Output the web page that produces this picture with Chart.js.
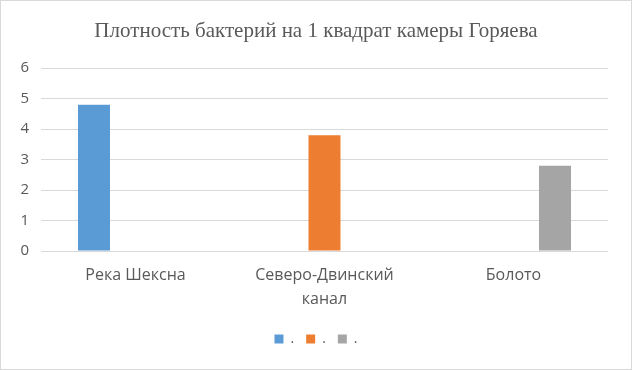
<!DOCTYPE html>
<html><head><meta charset="utf-8">
<script src="https://cdn.jsdelivr.net/npm/chart.js@4/dist/chart.umd.min.js"></script>
<style>html,body{margin:0;padding:0;background:#fff}#wrap{width:632px;height:370px}</style>
</head><body><div id="wrap"><canvas id="c" width="632" height="370"></canvas></div>
<script>
const title = "Плотность бактерий на 1 квадрат камеры Горяева";
const categories = [["Река Шексна"], ["Северо-Двинский", "канал"], ["Болото"]];
const seriesNames = [".", ".", "."];
const series1 = [4.8, null, null];
const series2 = [null, 3.8, null];
const series3 = [null, null, 2.8];
const colors = ["#5B9BD5", "#ED7D31", "#A5A5A5"];
const yMin = 0, yMax = 6, yStep = 1;

const border = {
  id: 'border',
  afterDraw(chart) {
    const ctx = chart.ctx;
    ctx.save();
    ctx.strokeStyle = '#d9d9d9';
    ctx.lineWidth = 1;
    ctx.strokeRect(0.5, 0.5, chart.width - 1, chart.height - 1);
    ctx.restore();
  }
};

new Chart(document.getElementById('c'), {
  type: 'bar',
  data: {
    labels: categories,
    datasets: [series1, series2, series3].map((d, i) => ({
      label: seriesNames[i],
      data: d,
      backgroundColor: colors[i],
      categoryPercentage: 0.659,
      barPercentage: 0.771
    }))
  },
  options: {
    responsive: false,
    animation: false,
    layout: { padding: { left: 0, right: 0, top: 0, bottom: 14 } },
    plugins: {
      title: {
        display: true, text: title, color: '#595959',
        font: { family: 'Liberation Serif', size: 21, weight: 'normal' },
        padding: { top: 19, bottom: 24 }
      },
      legend: {
        position: 'bottom',
        labels: {
          boxWidth: 9, boxHeight: 9, color: '#595959',
          font: { family: 'Open Sans', size: 14 },
          padding: 12
        }
      },
      tooltip: { enabled: false }
    },
    scales: {
      x: {
        grid: { display: false },
        border: { display: false },
        ticks: { color: '#595959', font: { family: 'Open Sans', size: 16, lineHeight: 1.5 }, maxRotation: 0, padding: 4 },
        afterFit(s) { s.height = 69; }
      },
      y: {
        min: yMin, max: yMax,
        ticks: { stepSize: yStep, color: '#595959', font: { family: 'Open Sans', size: 15 }, padding: 12 },
        grid: { color: '#d9d9d9', drawTicks: false },
        border: { display: false },
        afterFit(s) { s.width = 41; }
      },
      yRight: {
        position: 'right',
        display: true,
        ticks: { display: false },
        grid: { display: false, drawTicks: false },
        border: { display: false },
        afterFit(s) { s.width = 24; }
      }
    }
  },
  plugins: [border]
});
</script></body></html>
